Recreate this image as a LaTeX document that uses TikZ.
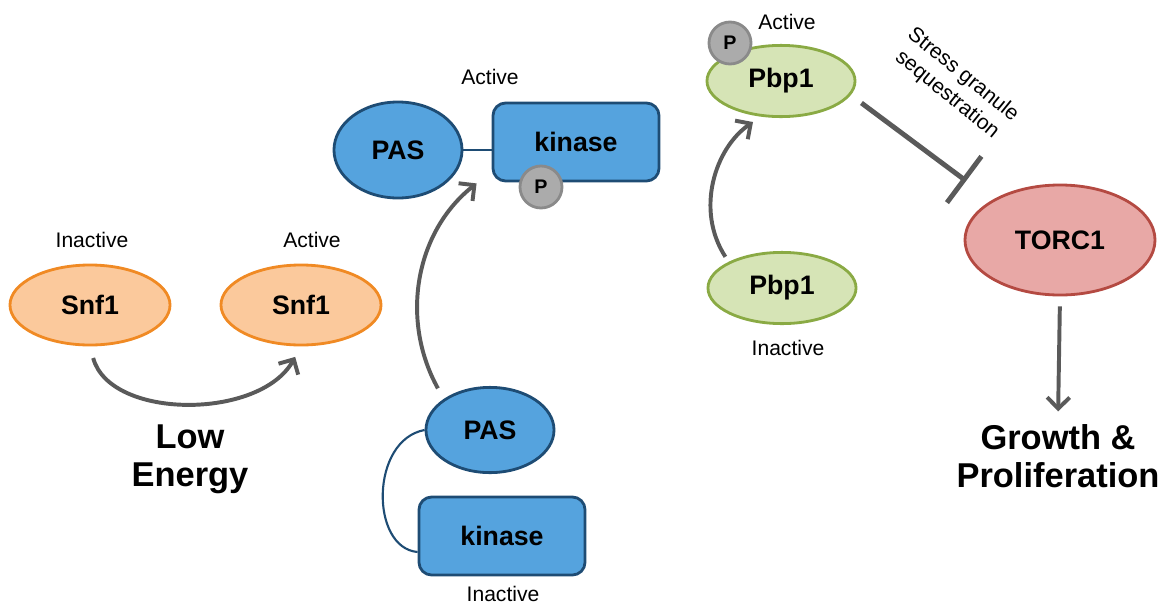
\documentclass[tikz,border=0pt]{standalone}
\usepackage{fontspec}
\setmainfont{Liberation Sans}
\usetikzlibrary{shapes.geometric,arrows.meta,calc}

\definecolor{snfFill}{HTML}{FBC99C}
\definecolor{snfLine}{HTML}{F08A24}
\definecolor{pasFill}{HTML}{55A3DE}
\definecolor{pasLine}{HTML}{1E4C74}
\definecolor{pbpFill}{HTML}{D6E4B6}
\definecolor{pbpLine}{HTML}{8AAA44}
\definecolor{torFill}{HTML}{E8A8A6}
\definecolor{torLine}{HTML}{B44A42}
\definecolor{phFill}{HTML}{ABABAB}
\definecolor{phLine}{HTML}{8A8A8A}
\definecolor{arrowGray}{HTML}{5A5A5A}

\begin{document}
\begin{tikzpicture}[x=0.025cm, y=-0.025cm,
    bigFont/.style={font=\bfseries\fontsize{19}{22}\selectfont},
    snfStyle/.style={ellipse, draw=snfLine, fill=snfFill, line width=2pt, minimum width=4cm, minimum height=2cm, inner sep=0pt, bigFont},
    pasStyle/.style={ellipse, draw=pasLine, fill=pasFill, line width=2pt, minimum width=3.2cm, minimum height=2.2cm, inner sep=0pt, bigFont},
    kinStyle/.style={rectangle, rounded corners=9pt, draw=pasLine, fill=pasFill, line width=2pt, minimum width=4.15cm, minimum height=1.95cm, inner sep=0pt, bigFont},
    pbpStyle/.style={ellipse, draw=pbpLine, fill=pbpFill, line width=2pt, minimum width=3.7cm, minimum height=1.78cm, inner sep=0pt, bigFont},
    torStyle/.style={ellipse, draw=torLine, fill=torFill, line width=2pt, minimum width=4.75cm, minimum height=2.75cm, inner sep=0pt, bigFont},
    phStyle/.style={circle, draw=phLine, fill=phFill, line width=2pt, minimum size=1.05cm, inner sep=0pt, font=\bfseries\fontsize{14}{16}\selectfont},
    stateStyle/.style={font=\fontsize{15}{18}\selectfont},
    hugeStyle/.style={align=center, font=\bfseries\fontsize{24.5}{27}\selectfont},
    arrowStyle/.style={draw=arrowGray, line width=2.8pt, -{Straight Barb[length=8pt, width=16pt]}},
    linkStyle/.style={draw=pasLine, line width=1.5pt}]
    \useasboundingbox (0,0) rectangle (1165,606);

    % Snf1
    \node[snfStyle](snfOff) at (90, 305) {Snf1};
    \node[snfStyle](snfOn) at (301, 305) {Snf1};
    \node[stateStyle](snfOffLab) at (92, 240) {Inactive};
    \node[stateStyle](snfOnLab) at (312, 240) {Active};
    \node[hugeStyle](lowE) at (190, 459) {Low\\Energy};

    % PAS kinase
    \node[pasStyle, minimum height=2.4cm](pasOn) at (398, 150) {PAS};
    \node[kinStyle](kinOn) at (576, 142) {kinase};
    \node[phStyle](phKin) at (541, 187) {P};
    \node[stateStyle](kinOnLab) at (490, 77) {Active};
    \node[pasStyle, minimum height=2.13cm](pasOff) at (490, 430) {PAS};
    \node[kinStyle](kinOff) at (502, 536) {kinase};
    \node[stateStyle](kinOffLab) at (503, 594) {Inactive};

    % Pbp1
    \node[pbpStyle](pbpOn) at (781, 81) {Pbp1};
    \node[phStyle](phPbp) at (730, 43) {P};
    \node[stateStyle](pbpOnLab) at (787, 22) {Active};
    \node[pbpStyle](pbpOff) at (782, 288) {Pbp1};
    \node[stateStyle](pbpOffLab) at (788, 348) {Inactive};
    \node[stateStyle, align=center, rotate=-39, font=\fontsize{15}{18}\selectfont](stress) at (955, 85) {Stress granule\\sequestration};

    % TORC1
    \node[torStyle](torc) at (1060, 240) {TORC1};
    \node[hugeStyle](growth) at (1058, 456) {Growth \&\\Proliferation};

    \draw[arrowStyle, shorten <=0.3cm, shorten >=0.3cm] (snfOff.south) .. controls (110, 420) and (260, 420) .. (snfOn.south);
    \draw[linkStyle] (pasOn.east) -- (pasOn.east -| kinOn.west);
    \draw[linkStyle] (pasOff.west) .. controls (370, 440) and (370, 548) .. ($(kinOff.west)+(0, 16)$);
    \draw[arrowStyle, shorten <=0.3cm] (pasOff.north west) .. controls (400, 320) and (415, 232) .. ($(kinOn.south west)+(-15, 1)$);
    \draw[arrowStyle, shorten <=0.15cm] (pbpOff.north west) .. controls (695, 210) and (715, 148) .. ($(pbpOn.south)+(-28, 4)$);
    \draw[draw=arrowGray, line width=3.5pt, -{Bar[width=41pt]}, shorten >=0.8cm] ($(pbpOn.east)+(5, 22)$) -- (torc.north west);
    \draw[arrowStyle, shorten <=0.25cm, shorten >=0.2cm] (torc.south) -- (growth.north);
\end{tikzpicture}
\end{document}
